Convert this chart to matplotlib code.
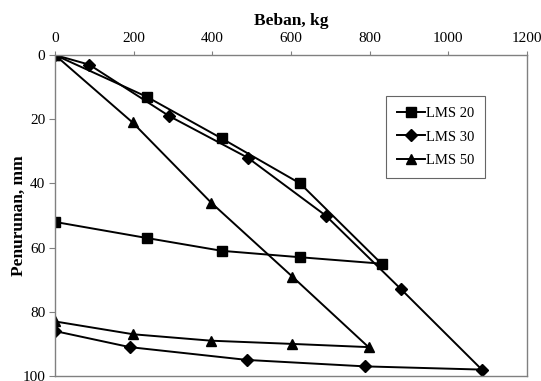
import matplotlib
matplotlib.use('Agg')
import matplotlib.pyplot as plt

plt.rcParams['font.family'] = ['Liberation Serif', 'DejaVu Serif']

# load (kg) and settlement (mm), loading then unloading
lms20_load = [0, 233, 424, 623, 830, 623, 424, 233, 0]
lms20_settle = [0, 13, 26, 40, 65, 63, 61, 57, 52]

lms30_load = [0, 87, 290, 490, 688, 880, 1085, 788, 489, 190, 0]
lms30_settle = [0, 3, 19, 32, 50, 73, 98, 97, 95, 91, 86]

lms50_load = [0, 197, 397, 603, 797, 603, 397, 199, 0]
lms50_settle = [0, 21, 46, 69, 91, 90, 89, 87, 83]

x_ticks = [0, 200, 400, 600, 800, 1000, 1200]
y_ticks = [0, 20, 40, 60, 80, 100]

fig = plt.figure(figsize=(5.41, 3.81), dpi=100)
ax = fig.add_axes([0.1017, 0.0131, 0.8725, 0.8425])

ax.plot(lms20_load, lms20_settle, color='black', lw=1.4, marker='s', ms=6.5, label='LMS 20')
ax.plot(lms30_load, lms30_settle, color='black', lw=1.4, marker='D', ms=6.5, label='LMS 30')
ax.plot(lms50_load, lms50_settle, color='black', lw=1.4, marker='^', ms=6.5, label='LMS 50')

ax.set_xlim(0, 1200)
ax.set_ylim(100, 0)
ax.set_xticks(x_ticks)
ax.set_yticks(y_ticks)
ax.xaxis.tick_top()
ax.xaxis.set_label_position('top')
ax.tick_params(axis='x', direction='out', length=3, color='#808080', labelsize=11, pad=4)
ax.tick_params(axis='y', direction='out', length=4, color='#808080', labelsize=11, pad=3)
for s in ax.spines.values():
    s.set_color('#808080')
    s.set_linewidth(1.0)

ax.set_xlabel('Beban, kg', fontsize=12.5, fontweight='bold')
ax.set_ylabel('Penurunan, mm', fontsize=12.5, fontweight='bold')
ax.xaxis.set_label_coords(0.5, 1.092)
ax.yaxis.set_label_coords(-0.060, 0.5)

leg = ax.legend(loc='upper left', bbox_to_anchor=(386 / 541, 1 - 96 / 381),
                bbox_transform=fig.transFigure, fontsize=10.5, frameon=True,
                fancybox=False, edgecolor='#404040', handlelength=1.9,
                handletextpad=0.1, borderpad=0.75, labelspacing=0.7,
                borderaxespad=0)
leg.get_frame().set_linewidth(0.8)

fig.savefig('out.png', dpi=100)
